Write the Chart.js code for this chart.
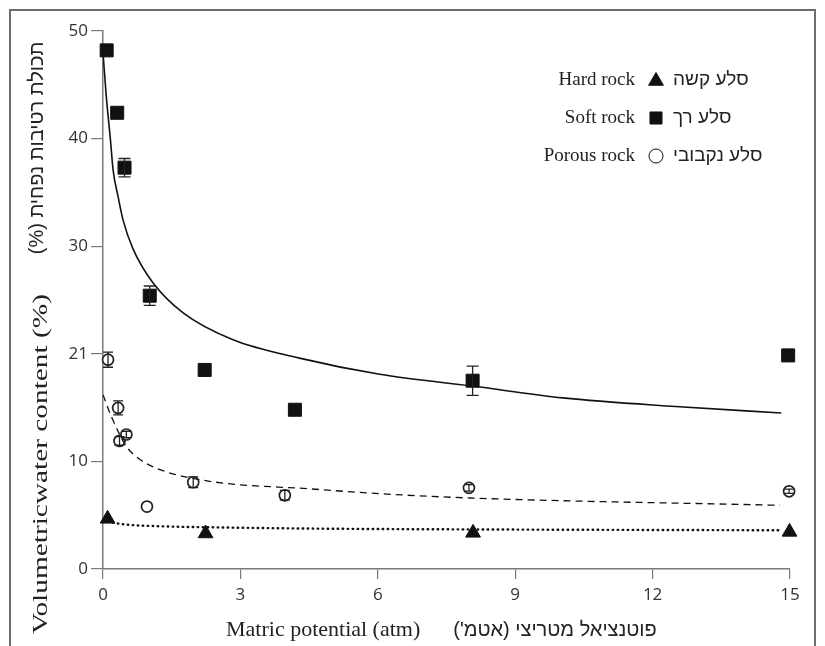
<!DOCTYPE html>
<html>
<head>
<meta charset="utf-8">
<script src="https://cdn.jsdelivr.net/npm/chart.js@4.4.1/dist/chart.umd.min.js"></script>
<style>
  html, body { margin: 0; padding: 0; background: #fff; }
  #wrap { width: 825px; height: 646px; position: relative; }
</style>
</head>
<body>
<div id="wrap"><canvas id="chart" width="825" height="646"></canvas></div>
<script>
// values
const hardX = [0.10, 2.24, 8.08, 14.99];
const hardY = [4.66, 3.30, 3.36, 3.45];

const softX = [0.08, 0.31, 0.47, 1.02, 2.22, 4.19, 8.07, 14.96];
const softY = [48.2, 42.4, 37.3, 25.4, 18.5, 14.8, 17.5, 19.85];
const softErr = [0, 0, 0.85, 0.9, 0, 0, 1.36, 0];

const porousX = [0.11, 0.33, 0.36, 0.51, 0.96, 1.97, 3.97, 7.99, 14.98];
const porousY = [19.45, 14.97, 11.9, 12.5, 5.8, 8.06, 6.85, 7.54, 7.22];
const porousErr = [0.7, 0.65, 0.4, 0.3, 0, 0.5, 0.45, 0.3, 0.2];

// fitted curves
const softFitX = [0.0, 0.07, 0.16, 0.22, 0.33, 0.44, 0.66, 1.09, 1.75, 2.84, 4.29, 6.04, 8.07, 10.04, 12.5, 14.81];
const softFitY = [48.0, 44.0, 40.0, 37.1, 34.6, 32.4, 29.7, 26.6, 23.8, 21.3, 19.6, 18.1, 17.0, 15.9, 15.1, 14.5];

const porousFitX = [0.0, 0.18, 0.51, 0.8, 1.24, 2.33, 4.51, 6.04, 8.0, 14.78];
const porousFitY = [16.2, 14.2, 11.4, 10.2, 9.24, 8.15, 7.45, 7.0, 6.6, 5.92];

const hardFitX = [0.0, 0.5, 1.24, 2.3, 4.5, 8.0, 14.78];
const hardFitY = [4.45, 4.13, 3.97, 3.88, 3.76, 3.68, 3.6];

const xTicks = [0, 3, 6, 9, 12, 15];
const yTicks = [0, 10, 20, 30, 40, 50];
const yTickLabels = ['0', '10', '21', '30', '40', '50'];

const namesEn = ['Hard rock', 'Soft rock', 'Porous rock'];
const namesHe = ['סלע קשה', 'סלע רך', 'סלע נקבובי'];

const xTitleEn = 'Matric potential (atm)';
const xTitleHe = "פוטנציאל מטריצי (אטמ')";
const yTitleEn = 'Volumetricwater content (%)';
const yTitleHe = 'תכולת רטיבות נפחית (%)';

const pts = (xs, ys) => xs.map((x, i) => ({ x: x, y: ys[i] }));

const INK = '#111';
const AXIS = '#7a7a7a';
const serif = '"Liberation Serif", "DejaVu Serif", serif';
const sans = '"Liberation Sans", "DejaVu Sans", sans-serif';

const framePlugin = {
  id: 'frame',
  beforeDraw(chart) {
    const ctx = chart.ctx;
    ctx.save();
    ctx.fillStyle = '#fff';
    ctx.fillRect(0, 0, chart.width, chart.height);
    ctx.strokeStyle = '#6e6e6e';
    ctx.lineWidth = 2;
    ctx.strokeRect(10, 10, 805, 700);
    ctx.restore();
  }
};

const errorPlugin = {
  id: 'errbars',
  afterDatasetsDraw(chart) {
    const ctx = chart.ctx;
    const xs = chart.scales.x, ys = chart.scales.y;
    const sets = [[softX, softY, softErr, 6], [porousX, porousY, porousErr, 5]];
    ctx.save();
    ctx.strokeStyle = '#222';
    ctx.lineWidth = 1.3;
    sets.forEach(([xa, ya, ea, cap]) => {
      xa.forEach((x, i) => {
        if (!ea[i]) return;
        const px = xs.getPixelForValue(x);
        const top = ys.getPixelForValue(ya[i] + ea[i]);
        const bot = ys.getPixelForValue(ya[i] - ea[i]);
        ctx.beginPath();
        ctx.moveTo(px, top); ctx.lineTo(px, bot);
        ctx.moveTo(px - cap, top); ctx.lineTo(px + cap, top);
        ctx.moveTo(px - cap, bot); ctx.lineTo(px + cap, bot);
        ctx.stroke();
      });
    });
    ctx.restore();
  }
};

// draw a rotated title, stretched along its length to a given span
function rotatedText(ctx, text, font, cx, cy, span, rtl) {
  ctx.save();
  ctx.font = font;
  ctx.direction = rtl ? 'rtl' : 'ltr';
  ctx.textAlign = 'center';
  const w = ctx.measureText(text).width;
  ctx.translate(cx, cy);
  ctx.rotate(-Math.PI / 2);
  ctx.scale(span ? span / w : 1, 1);
  ctx.fillText(text, 0, 0);
  ctx.restore();
}

const textPlugin = {
  id: 'texts',
  afterDraw(chart) {
    const ctx = chart.ctx;
    ctx.save();
    ctx.fillStyle = '#222';
    ctx.textBaseline = 'middle';

    // x axis title
    ctx.font = '22px ' + serif;
    ctx.textAlign = 'left';
    ctx.fillText(xTitleEn, 226, 630);
    ctx.font = '20px ' + sans;
    ctx.direction = 'rtl';
    ctx.textAlign = 'center';
    ctx.fillText(xTitleHe, 555, 630);
    ctx.direction = 'ltr';

    // y axis title, rotated
    rotatedText(ctx, yTitleEn, '22px ' + serif, 41, 464, 340, false);
    rotatedText(ctx, yTitleHe, '20px ' + sans, 37, 148, 0, true);

    // legend
    const rowsY = [80, 118, 156];
    const markers = [
      { pointStyle: 'triangle', radius: 8.5, fill: true },
      { pointStyle: 'rect', radius: 8.5, fill: true },
      { pointStyle: 'circle', radius: 7, fill: false }
    ];
    namesEn.forEach((name, i) => {
      const y = rowsY[i];
      ctx.fillStyle = '#222';
      ctx.font = '19px ' + serif;
      ctx.direction = 'ltr';
      ctx.textAlign = 'right';
      ctx.fillText(name, 635, y);
      ctx.font = '19px ' + sans;
      ctx.direction = 'rtl';
      ctx.textAlign = 'left';
      ctx.fillText(namesHe[i], 673, y);
      ctx.direction = 'ltr';
      const m = markers[i];
      ctx.fillStyle = m.fill ? INK : '#fff';
      ctx.strokeStyle = INK;
      Chart.helpers.drawPoint(ctx, { pointStyle: m.pointStyle, radius: m.radius, borderWidth: 1.2, rotation: 0 }, 656, y + (i === 0 ? 1 : 0));
    });
    ctx.restore();
  }
};

new Chart(document.getElementById('chart'), {
  type: 'scatter',
  data: {
    datasets: [
      {
        label: 'soft fit', data: pts(softFitX, softFitY), showLine: true,
        borderColor: INK, borderWidth: 1.6, pointRadius: 0, cubicInterpolationMode: 'monotone'
      },
      {
        label: 'porous fit', data: pts(porousFitX, porousFitY), showLine: true,
        borderColor: INK, borderWidth: 1.3, borderDash: [7, 5], pointRadius: 0, cubicInterpolationMode: 'monotone'
      },
      {
        label: 'hard fit', data: pts(hardFitX, hardFitY), showLine: true,
        borderColor: INK, borderWidth: 2.4, borderDash: [0.5, 4.5], borderCapStyle: 'round',
        pointRadius: 0, cubicInterpolationMode: 'monotone'
      },
      {
        label: namesEn[0], data: pts(hardX, hardY), pointStyle: 'triangle', pointRadius: 8.5,
        backgroundColor: INK, borderColor: INK, borderWidth: 1, clip: false
      },
      {
        label: namesEn[1], data: pts(softX, softY), pointStyle: 'rect', pointRadius: 9.2,
        backgroundColor: INK, borderColor: INK, borderWidth: 1, clip: false
      },
      {
        label: namesEn[2], data: pts(porousX, porousY), pointStyle: 'circle', pointRadius: 5.5,
        backgroundColor: '#fff', borderColor: '#222', borderWidth: 1.7, clip: false
      }
    ]
  },
  options: {
    responsive: false,
    animation: false,
    events: [],
    layout: { padding: { left: 43, right: 35, top: 31, bottom: 17 } },
    plugins: { legend: { display: false }, tooltip: { enabled: false } },
    scales: {
      x: {
        type: 'linear', min: 0, max: 15,
        afterBuildTicks: s => { s.ticks = xTicks.map(v => ({ value: v })); },
        afterFit: s => { s.height = 60; },
        grid: { drawOnChartArea: false, drawTicks: true, tickLength: 10, color: AXIS, lineWidth: 1.2 },
        border: { color: AXIS, width: 1.5 },
        ticks: { color: '#333', font: { family: '"Open Sans", sans-serif', size: 17 }, padding: 6, maxRotation: 0 }
      },
      y: {
        type: 'linear', min: 0, max: 50,
        afterBuildTicks: s => { s.ticks = yTicks.map(v => ({ value: v })); },
        afterFit: s => { s.width = 60; },
        grid: { drawOnChartArea: false, drawTicks: true, tickLength: 12, color: AXIS, lineWidth: 1.2 },
        border: { color: AXIS, width: 1.5 },
        ticks: {
          color: '#333', font: { family: '"Open Sans", sans-serif', size: 17 }, padding: 3,
          callback: (v, i) => yTickLabels[i]
        }
      }
    }
  },
  plugins: [framePlugin, errorPlugin, textPlugin]
});
</script>
</body>
</html>
